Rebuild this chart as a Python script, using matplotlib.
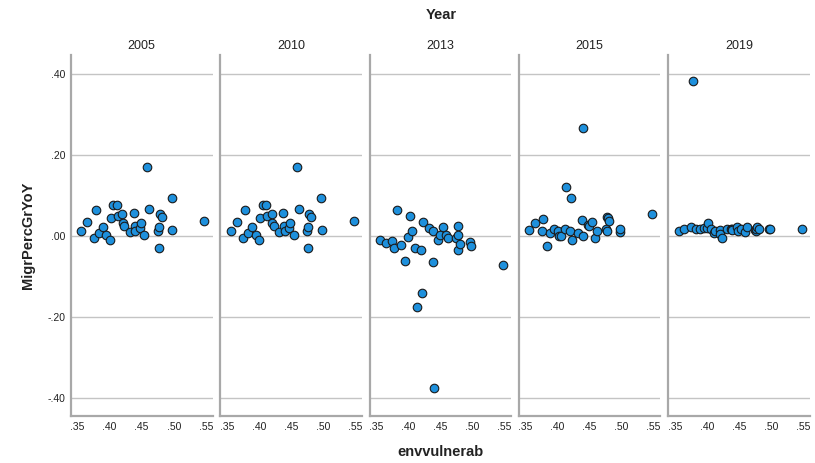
import numpy as np
import matplotlib.pyplot as plt

plt.rcParams['font.family'] = ['Liberation Sans', 'DejaVu Sans']

# envvulnerab per country (same for every year)
envvulnerab = [0.356, 0.365, 0.375, 0.378, 0.383, 0.389, 0.395, 0.400,
               0.402, 0.406, 0.411, 0.413, 0.420, 0.421, 0.423, 0.432,
               0.438, 0.439, 0.440, 0.447, 0.449, 0.454, 0.459, 0.462,
               0.475, 0.477, 0.477, 0.478, 0.481, 0.497, 0.498, 0.548]

years = ['2005', '2010', '2013', '2015', '2019']

y_2005 = [0.011, 0.034, -0.006, 0.064, 0.008, 0.022, 0.002, -0.010,
          0.045, 0.076, 0.076, 0.048, 0.055, 0.033, 0.024, 0.010,
          0.057, 0.025, 0.013, 0.019, 0.032, 0.001, 0.171, 0.067,
          0.012, 0.021, -0.029, 0.055, 0.046, 0.094, 0.015, 0.037]
y_2010 = [0.011, 0.034, -0.006, 0.064, 0.008, 0.022, 0.002, -0.010,
          0.045, 0.076, 0.076, 0.048, 0.055, 0.033, 0.024, 0.010,
          0.057, 0.025, 0.013, 0.019, 0.032, 0.001, 0.171, 0.067,
          0.012, 0.021, -0.029, 0.055, 0.046, 0.094, 0.015, 0.037]
y_2013 = [-0.010, -0.017, -0.013, -0.031, 0.064, -0.023, -0.062, -0.002,
          0.049, 0.012, -0.030, -0.175, -0.035, -0.142, 0.034, 0.019,
          0.012, -0.065, -0.374, -0.009, 0.002, 0.021, 0.002, -0.005,
          -0.006, 0.025, 0.002, -0.035, -0.021, -0.016, -0.025, -0.072]
y_2015 = [0.015, 0.031, 0.013, 0.042, -0.026, 0.008, 0.016, 0.011,
          0.000, 0.000, 0.018, 0.120, 0.012, 0.094, -0.010, 0.007,
          0.040, -0.001, 0.265, 0.028, 0.024, 0.035, -0.006, 0.012,
          0.018, 0.047, 0.011, 0.043, 0.037, 0.010, 0.018, 0.053]
y_2019 = [0.011, 0.018, 0.021, 0.381, 0.018, 0.018, 0.019, 0.020,
          0.033, 0.016, 0.007, 0.012, 0.015, 0.005, -0.004, 0.018,
          0.016, 0.018, 0.014, 0.023, 0.012, 0.018, 0.010, 0.021,
          0.014, 0.012, 0.018, 0.021, 0.016, 0.016, 0.018, 0.018]
series = [y_2005, y_2010, y_2013, y_2015, y_2019]

xticks = [0.35, 0.40, 0.45, 0.50, 0.55]
xtick_labels = ['.35', '.40', '.45', '.50', '.55']
yticks = [0.40, 0.20, 0.00, -0.20, -0.40]
ytick_labels = ['.40', '.20', '.00', '-.20', '-.40']

W, H = 815, 463
fig = plt.figure(figsize=(W / 100, H / 100), dpi=100)

spine_col = '#a8a8a8'
grid_col = '#c4c4c4'
text_col = '#222222'

for i, (yr, yv) in enumerate(zip(years, series)):
    left = 71 + 149.3 * i
    ax = fig.add_axes([left / W, 1 - 415.5 / H, 141.5 / W, (415.5 - 55.5) / H])
    ax.scatter(envvulnerab, yv, s=38, color='#1e90dc', edgecolor='#1a1a1a',
               linewidth=0.8, zorder=3)
    ax.set_xlim(0.3397, 0.5605)
    ax.set_ylim(-0.443, 0.445)
    ax.set_yticks(yticks)
    ax.set_xticks(xticks)
    ax.set_xticklabels(xtick_labels)
    if i == 0:
        ax.set_yticklabels(ytick_labels)
    else:
        ax.set_yticklabels([])
    ax.tick_params(length=0, labelsize=7.5, colors=text_col, pad=5)
    ax.tick_params(axis='y', pad=4)
    ax.grid(axis='y', color=grid_col, linewidth=1.0, zorder=0)
    for s in ['top', 'right']:
        ax.spines[s].set_visible(False)
    for s in ['left', 'bottom']:
        ax.spines[s].set_color(spine_col)
        ax.spines[s].set_linewidth(1.6)
    ax.set_title(yr, fontsize=9, color=text_col, pad=5)

fig.text(441 / W, 1 - 15 / H, 'Year', ha='center', va='center',
         fontsize=10.5, fontweight='bold', color=text_col)
fig.text(440 / W, 1 - 452 / H, 'envvulnerab', ha='center', va='center',
         fontsize=10.5, fontweight='bold', color=text_col)
fig.text(28 / W, 1 - 235 / H, 'MigrPercGrYoY', ha='center', va='center',
         rotation=90, fontsize=10.5, fontweight='bold', color=text_col)

fig.savefig('out.png', dpi=100, facecolor='white')
